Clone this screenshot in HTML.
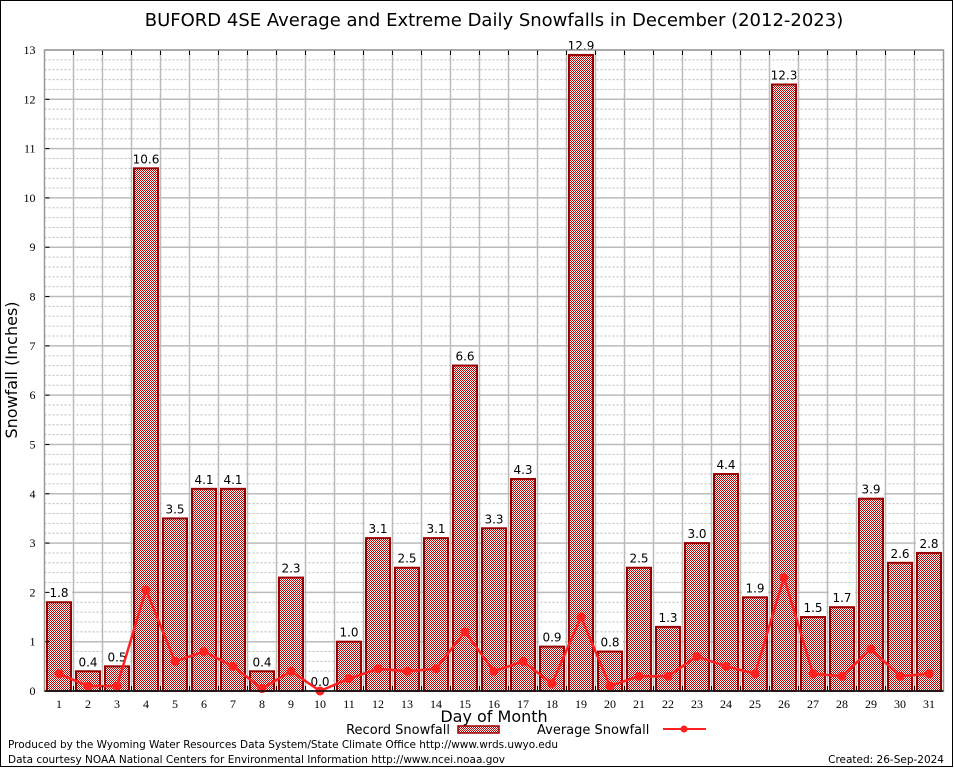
<!DOCTYPE html>
<html><head><meta charset="utf-8">
<style>
body{margin:0;background:#fff;}
svg{display:block;font-family:"DejaVu Sans","Liberation Sans",sans-serif;}
</style></head>
<body>
<svg id="chart" width="954" height="768" viewBox="0 0 954 768">
<defs>
<pattern id="chk" width="2" height="2" patternUnits="userSpaceOnUse">
<rect width="2" height="2" fill="#fff"/>
<rect width="1" height="1" fill="#c00000"/>
<rect x="1" y="1" width="1" height="1" fill="#c00000"/>
</pattern>
</defs>
<rect x="0.5" y="0.5" width="952" height="766" fill="#fff" stroke="#000"/>
<text x="494" y="26" font-size="18" text-anchor="middle">BUFORD 4SE Average and Extreme Daily Snowfalls in December (2012-2023)</text>
<g id="grid"></g>
<g id="bars"></g>
<g id="avg"></g>
<g id="axes"></g>
<text x="17" y="370" font-size="16" text-anchor="middle" transform="rotate(-90 17 370)">Snowfall (Inches)</text>
<text x="494" y="722" font-size="16" text-anchor="middle">Day of Month</text>
<g>
<text x="450" y="734" font-size="13" text-anchor="end">Record Snowfall</text>
<rect x="458" y="726" width="41" height="7" fill="url(#chk)" stroke="#990000" stroke-width="1.5"/>
</g>
<g>
<text x="537" y="734" font-size="13">Average Snowfall</text>
<line x1="663" y1="729" x2="706" y2="729" stroke="#ff2020" stroke-width="2"/>
<circle cx="684" cy="729" r="3.5" fill="#ff2020"/>
</g>
<text x="8" y="748" font-size="10.5" textLength="550">Produced by the Wyoming Water Resources Data System/State Climate Office http://www.wrds.uwyo.edu</text>
<text x="8" y="763" font-size="10.5" textLength="497">Data courtesy NOAA National Centers for Environmental Information http://www.ncei.noaa.gov</text>
<text x="944" y="763" font-size="10.5" text-anchor="end">Created:  26-Sep-2024</text>
</svg>
<script>
const days=[1,2,3,4,5,6,7,8,9,10,11,12,13,14,15,16,17,18,19,20,21,22,23,24,25,26,27,28,29,30,31];
const records=[1.8,0.4,0.5,10.6,3.5,4.1,4.1,0.4,2.3,0.0,1.0,3.1,2.5,3.1,6.6,3.3,4.3,0.9,12.9,0.8,2.5,1.3,3.0,4.4,1.9,12.3,1.5,1.7,3.9,2.6,2.8];
const averages=[0.35,0.1,0.1,2.05,0.6,0.8,0.5,0.05,0.4,0.0,0.25,0.45,0.4,0.45,1.2,0.4,0.6,0.15,1.5,0.1,0.3,0.3,0.7,0.5,0.35,2.3,0.35,0.3,0.85,0.3,0.35];
const yTicks=[0,1,2,3,4,5,6,7,8,9,10,11,12,13];
const NS="http://www.w3.org/2000/svg";
const L=44.5,R=943.5,T=50,B=691;
function xs(d){return L+(d-0.5)*(R-L)/31;}
function ys(v){return B-v*(B-T)/13;}
function mk(tag,attrs,parent,text){const e=document.createElementNS(NS,tag);for(const k in attrs)e.setAttribute(k,attrs[k]);if(text!==undefined)e.textContent=text;parent.appendChild(e);return e;}
const grid=document.getElementById('grid'),bars=document.getElementById('bars'),avg=document.getElementById('avg'),axes=document.getElementById('axes');
for(let v=0.2;v<13;v+=0.2){if(Math.abs(v-Math.round(v))<0.01)continue;mk('line',{x1:L,x2:R,y1:ys(v),y2:ys(v),stroke:'#bbb','stroke-width':1,'stroke-dasharray':'2,2'},grid);}
yTicks.forEach(t=>{
const gl=mk('line',{x1:L,x2:R,y1:ys(t),y2:ys(t),stroke:'#bbb','stroke-width':1.5},grid);


const tl=mk('text',{x:L-9,y:ys(t)+4,'font-size':12,'text-anchor':'end','font-family':'Liberation Serif,serif'},axes,String(t));


mk('line',{x1:L,x2:L+5,y1:ys(t),y2:ys(t),stroke:'#000'},axes);
});
for(let d=1;d<31;d++){const x=xs(d+0.5);mk('line',{x1:x,x2:x,y1:T,y2:B,stroke:'#bbb','stroke-width':1.5},grid);mk('line',{x1:x,x2:x,y1:T,y2:T+5,stroke:'#000'},axes);mk('line',{x1:x,x2:x,y1:B,y2:B-5,stroke:'#000'},axes);}
days.forEach((d,i)=>{
const v=records[i],x=xs(d);
const r=mk('rect',{x:x-12,y:ys(v),width:24,height:B-ys(v),fill:'url(#chk)',stroke:'#990000','stroke-width':2},bars);


mk('rect',{x:x-13,y:ys(v)-16,width:26,height:13,fill:'#fff'},bars);
const t=mk('text',{x:x,y:ys(v)-5,'font-size':12,'text-anchor':'middle'},bars,v.toFixed(1));


const xl=mk('text',{x:x,y:B+17,'font-size':12,'text-anchor':'middle','font-family':'Liberation Serif,serif'},axes,String(d));


});
const pts=days.map((d,i)=>xs(d)+','+ys(averages[i])).join(' ');
const pl=mk('polyline',{points:pts,fill:'none',stroke:'#ff2020','stroke-width':2.5},avg);


days.forEach((d,i)=>{
const p=mk('circle',{cx:xs(d),cy:ys(averages[i]),r:4.5,fill:'#ff2020'},avg);


});
mk('rect',{x:L,y:T,width:R-L,height:B-T,fill:'none',stroke:'#999','stroke-width':1.5},axes);
mk('line',{x1:L,x2:R,y1:B,y2:B,stroke:'#000','stroke-width':1.5},axes);
</script>
</body></html>
